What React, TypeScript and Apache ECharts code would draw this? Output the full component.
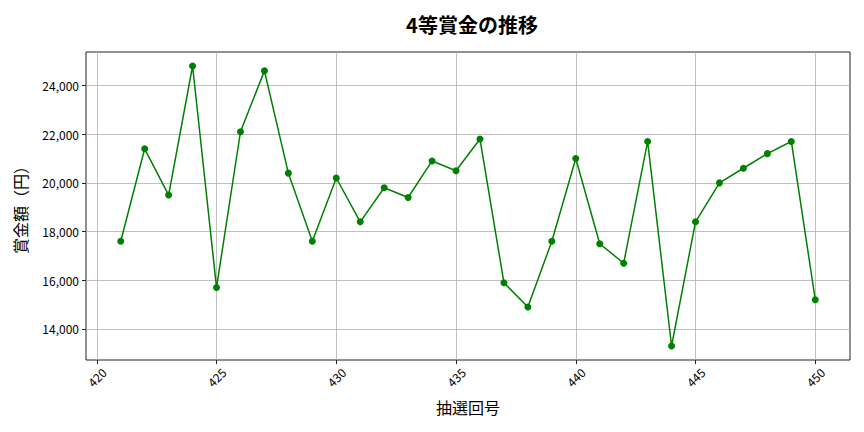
import React, { useEffect, useRef } from "react";
import * as echarts from "echarts";

const draws = [421, 422, 423, 424, 425, 426, 427, 428, 429, 430, 431, 432, 433, 434, 435, 436, 437, 438, 439, 440, 441, 442, 443, 444, 445, 446, 447, 448, 449, 450];
const prizes = [17600, 21400, 19500, 24800, 15700, 22100, 24600, 20400, 17600, 20200, 18400, 19800, 19400, 20900, 20500, 21800, 15900, 14900, 17600, 21000, 17500, 16700, 21700, 13300, 18400, 20000, 20600, 21200, 21700, 15200];
const xTicks = [420, 425, 430, 435, 440, 445, 450];
const yTicks = [14000, 16000, 18000, 20000, 22000, 24000];

const FONT = "'Noto Sans CJK JP', 'Noto Sans', sans-serif";

export default function App() {
  const ref = useRef<HTMLDivElement>(null);
  useEffect(() => {
    if (!ref.current) return;
    const chart = echarts.init(ref.current, undefined, { renderer: "svg" });
    const xMin = 421 - 0.05 * (450 - 421);
    const xMax = 450 + 0.05 * (450 - 421);
    const yLo = Math.min(...prizes);
    const yHi = Math.max(...prizes);
    const yMin = yLo - 0.05 * (yHi - yLo);
    const yMax = yHi + 0.05 * (yHi - yLo);
    chart.setOption({
      animation: false,
      backgroundColor: "#ffffff",
      title: {
        text: "4等賞金の推移",
        left: 467,
        top: 9,
        textAlign: "center",
        textStyle: { fontFamily: FONT, fontSize: 20, fontWeight: "bold", color: "#000" },
      },
      grid: { left: 86, right: 14, top: 52, bottom: 72, show: true, borderColor: "#222", borderWidth: 1, backgroundColor: "transparent" },
      xAxis: {
        type: "value",
        min: xMin,
        max: xMax,
        name: "抽選回号",
        nameLocation: "middle",
        nameGap: 39,
        nameTextStyle: { fontFamily: FONT, fontSize: 16, color: "#000" },
        axisLine: { show: false },
        axisTick: { show: true, customValues: xTicks, length: 4, lineStyle: { color: "#222" } },
        axisLabel: {
          customValues: xTicks,
          rotate: 45,
          align: "center",
          verticalAlign: "middle",
          fontFamily: FONT,
          fontSize: 12,
          color: "#000",
          margin: 17,
          formatter: (v: number) => String(v),
        },
        splitLine: { show: false },
      },
      yAxis: {
        type: "value",
        min: yMin,
        max: yMax,
        name: "賞金額（円）",
        nameLocation: "middle",
        nameGap: 58,
        nameRotate: 90,
        nameTextStyle: { fontFamily: FONT, fontSize: 16, color: "#000" },
        axisLine: { show: false },
        axisTick: { show: true, customValues: yTicks, length: 4, lineStyle: { color: "#222" } },
        axisLabel: {
          customValues: yTicks,
          fontFamily: FONT,
          fontSize: 12,
          color: "#000",
          margin: 7,
          formatter: (v: number) => v.toLocaleString("en-US"),
        },
        splitLine: { show: false },
      },
      series: [
        {
          type: "line",
          data: draws.map((d, i) => [d, prizes[i]]),
          color: "green",
          symbol: "circle",
          symbolSize: 7,
          lineStyle: { color: "green", width: 1.5 },
          itemStyle: { color: "green" },
          markLine: {
            silent: true,
            symbol: "none",
            label: { show: false },
            lineStyle: { color: "#b0b0b0", width: 0.8, type: "solid" },
            data: [
              ...xTicks.map((v) => ({ xAxis: v })),
              ...yTicks.map((v) => ({ yAxis: v })),
            ],
            z: 0,
          },
          z: 3,
        },
      ],
    });
    return () => chart.dispose();
  }, []);
  return <div ref={ref} style={{ width: 864, height: 432, position: "absolute", left: 0, top: 0 }} />;
}
